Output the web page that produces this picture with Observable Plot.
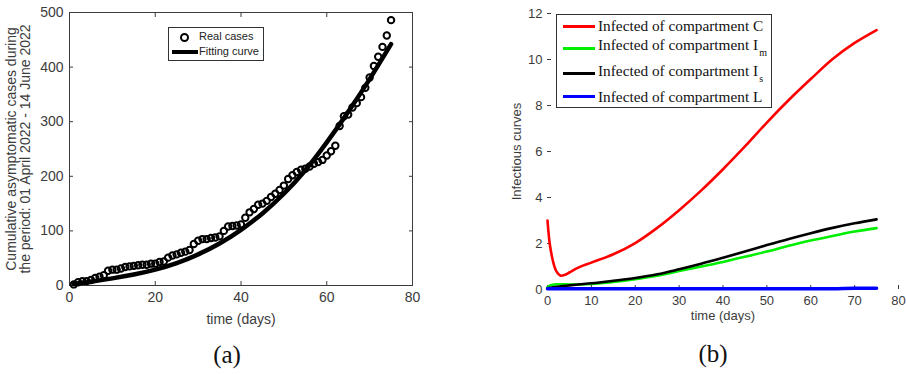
<!DOCTYPE html>
<html><head><meta charset="utf-8">
<script src="https://cdn.jsdelivr.net/npm/d3@7"></script>
<script src="https://cdn.jsdelivr.net/npm/@observablehq/plot@0.6"></script>
<style>
body{margin:0;background:#fff;}
#wrap{position:relative;width:906px;height:374px;overflow:hidden;font-family:"Liberation Sans",Arial,sans-serif;}
#pa,#pb{position:absolute;top:0}
#pa{left:0}#pb{left:453px}
.cap{position:absolute;font-family:"Liberation Serif","DejaVu Serif",serif;font-size:25px;color:#111;transform:translate(-50%,-50%);white-space:nowrap}
.leg{position:absolute;background:#fff;border:1px solid #333;}
.row{position:absolute;white-space:nowrap}
.sw{position:absolute}
</style>
</head><body>
<div id="wrap">
  <div id="pa"></div>
  <div id="pb"></div>
  <div class="cap" style="left:227px;top:355px">(a)</div>
  <div class="cap" style="left:713px;top:354px">(b)</div>
  <div id="legA" class="leg" style="left:168px;top:27px;width:94px;height:32px;font-size:11px;color:#222"></div>
  <div id="legB" class="leg" style="left:556px;top:14px;width:214px;height:92px;font-family:'Liberation Serif','Times New Roman',serif;font-size:15.3px;color:#111"></div>
</div>
<script>
// ---------- Panel (a) data ----------
const daysA = [1,2,3,4,5,6,7,8,9,10,11,12,13,14,15,16,17,18,19,20,21,22,23,24,25,26,27,28,29,30,31,32,33,34,35,36,37,38,39,40,41,42,43,44,45,46,47,48,49,50,51,52,53,54,55,56,57,58,59,60,61,62,63,64,65,66,67,68,69,70,71,72,73,74,75];
const realCases = [2,6,8,8,10,14,16,19,27,29,29,31,34,35,36,37,38,38,40,40,43,44,51,55,57,60,62,65,76,82,85,85,87,88,90,100,108,109,110,112,124,134,140,148,150,155,162,168,175,183,195,202,208,212,214,218,223,226,230,238,246,256,292,310,313,326,334,345,362,381,402,419,437,458,486];
const fitDays = [1,5,10,15,20,25,30,35,40,45,50,55,60,65,70,75];
const fitValues = [3,7,13,20,29,41,57,77,102,132,168,211,262,318,378,442];
const xTicksA = [0,20,40,60,80];
const yTicksA = [0,100,200,300,400,500];
const legendA = ["Real cases","Fitting curve"];

// ---------- Panel (b) data ----------
const tB = [0,0.5,1,1.5,2,3,4,5,7,10,15,20,25,30,35,40,45,50,55,60,65,70,75];
const compC  = [3.0,2.0,1.45,1.05,0.8,0.6,0.64,0.74,0.95,1.17,1.53,2.02,2.68,3.45,4.3,5.23,6.22,7.26,8.24,9.15,10.02,10.72,11.28];
const compIm = [0.1,0.17,0.2,0.22,0.23,0.23,0.23,0.22,0.22,0.24,0.33,0.45,0.6,0.8,1.0,1.2,1.42,1.65,1.9,2.13,2.33,2.52,2.67];
const compIs = [0.05,0.07,0.09,0.1,0.12,0.14,0.16,0.18,0.22,0.27,0.38,0.5,0.66,0.88,1.12,1.38,1.65,1.93,2.2,2.45,2.68,2.88,3.05];
const compL  = [0.03,0.03,0.03,0.03,0.03,0.03,0.03,0.03,0.03,0.03,0.03,0.03,0.03,0.03,0.03,0.03,0.03,0.03,0.03,0.03,0.03,0.05,0.05];
const xTicksB = [0,10,20,30,40,50,60,70,80];
const yTicksB = [0,2,4,6,8,10,12];
const seriesNames = ["C","Im","Is","L"];
const seriesColors = ["#ff0000","#00ee00","#000000","#0000ff"];

// ---------- build tables ----------
const realTable = daysA.map((d,i)=>({day:d, v:realCases[i]}));
const fitTable = fitDays.map((d,i)=>({day:d, v:fitValues[i]}));
const seriesVals = [compC, compIm, compIs, compL];
const seriesTables = seriesVals.map((arr,k)=>tB.map((t,i)=>({t, v:arr[i], s:seriesNames[k]})));

const axisColor = "#3c3c3c";
const pa = Plot.plot({
  width: 453, height: 330,
  marginLeft: 69, marginRight: 41, marginTop: 12, marginBottom: 45,
  style: {fontFamily: "'Liberation Sans', Arial, sans-serif", fontSize: "13px", color: axisColor, background: "transparent", overflow: "visible"},
  x: {domain: [0,80]},
  y: {domain: [0,500]},
  marks: [
    Plot.frame({stroke: axisColor}),
    Plot.axisX({ticks: xTicksA, tickSize: -4, tickPadding: 11, label: "time (days)", labelArrow: "none", labelAnchor: "center", labelOffset: 38, fontSize: 14}),
    Plot.axisX({anchor: "top", ticks: xTicksA, tickSize: -4, tickFormat: () => "", label: null}),
    Plot.axisY({ticks: yTicksA, tickSize: -4, tickPadding: 10, label: "Cumulative asymptomatic cases during\nthe period: 01 April 2022 - 14 June 2022", labelArrow: "none", labelAnchor: "center", labelOffset: 63, fontSize: 14}),
    Plot.axisY({anchor: "right", ticks: yTicksA, tickSize: -4, tickFormat: () => "", label: null}),
    Plot.line(fitTable, {x: "day", y: "v", stroke: "#000", strokeWidth: 4.5, curve: "natural"}),
    Plot.dot(realTable, {x: "day", y: "v", r: 3.2, stroke: "#000", strokeWidth: 2, fill: "none"})
  ]
});
document.getElementById("pa").appendChild(pa);

const pb = Plot.plot({
  width: 453, height: 330,
  marginLeft: 94, marginRight: 8, marginTop: 13, marginBottom: 41,
  style: {fontFamily: "'Liberation Sans', Arial, sans-serif", fontSize: "13px", color: axisColor, background: "transparent", overflow: "visible"},
  x: {domain: [0,80]},
  y: {domain: [0,12]},
  marks: [
    Plot.axisX({ticks: xTicksB, tickSize: -4, tickPadding: 10, line: true, label: "time (days)", labelArrow: "none", labelAnchor: "center", labelOffset: 30}),
    Plot.axisY({ticks: yTicksB, tickSize: -4, tickPadding: 9, line: true, label: "Infectious curves", labelArrow: "none", labelAnchor: "center", labelOffset: 36}),
    ...seriesTables.map((tab,k)=>Plot.line(tab, {x: "t", y: "v", stroke: seriesColors[k], strokeWidth: k===3 ? 3.5 : 2.6, curve: "catmull-rom"}))
  ]
});
document.getElementById("pb").appendChild(pb);

// ---------- legends ----------
const legA = document.getElementById("legA");
legA.innerHTML =
  `<div class="sw" style="left:11px;top:5px;width:5px;height:5px;border:2px solid #000;border-radius:50%"></div>` +
  `<div class="row" style="left:30px;top:2px">${legendA[0]}</div>` +
  `<div class="sw" style="left:3px;top:22px;width:26px;height:4px;background:#000"></div>` +
  `<div class="row" style="left:30px;top:17px">${legendA[1]}</div>`;

const legB = document.getElementById("legB");
const subStyle = "font-size:10px;vertical-align:-6px;margin-left:1px";
const rowsB = [
  {top:2, sw:10, html:"Infected of compartment C"},
  {top:21, sw:32, html:`Infected of compartment I<sub style='${subStyle}'>m</sub>`},
  {top:47, sw:57, html:`Infected of compartment I<sub style='${subStyle}'>s</sub>`},
  {top:73, sw:80, html:"Infected of compartment L"}
];
legB.innerHTML = rowsB.map((r,k)=>
  `<div class="sw" style="left:6px;top:${r.sw}px;width:32px;height:3px;background:${seriesColors[k]}"></div>` +
  `<div class="row" style="left:41px;top:${r.top}px;line-height:18px">${r.html}</div>`).join("");
</script>
</body></html>
